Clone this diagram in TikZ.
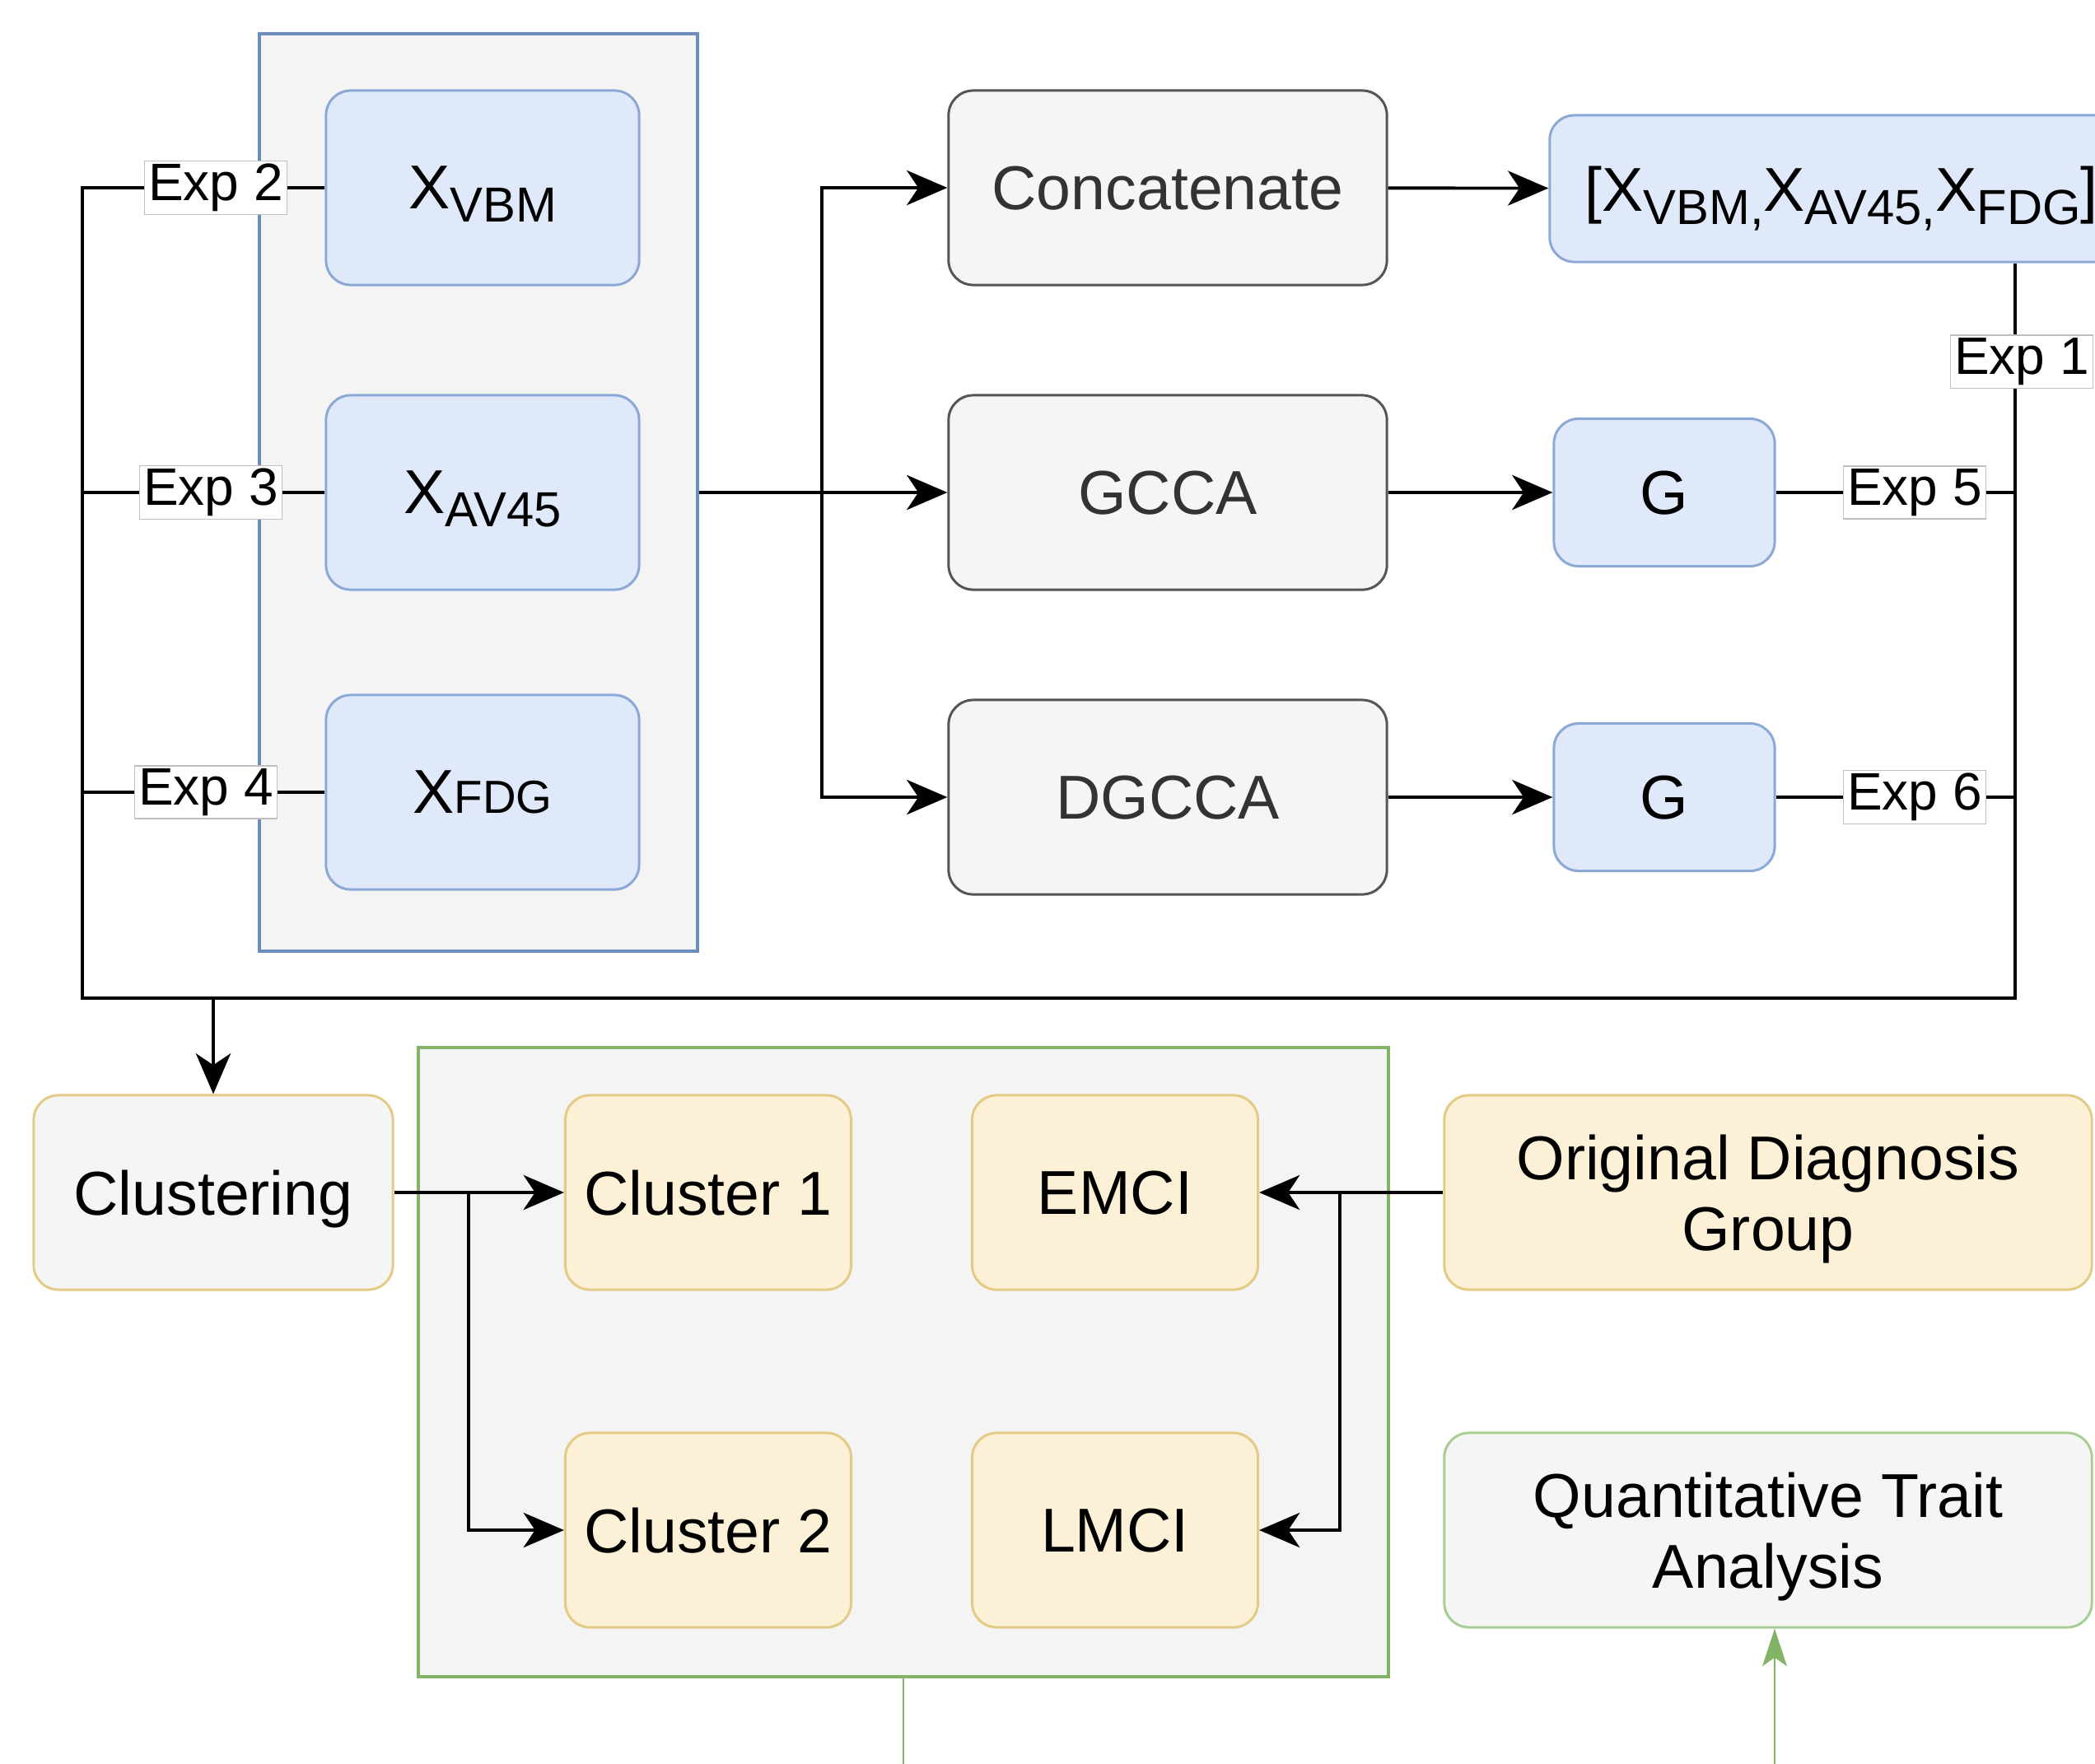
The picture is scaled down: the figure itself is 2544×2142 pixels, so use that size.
\documentclass[tikz,border=0pt]{standalone}
\usepackage{fontspec}
\setmainfont{Liberation Sans}
\usetikzlibrary{positioning,arrows.meta}

\definecolor{bluefill}{HTML}{DFE9F9}
\definecolor{bluedraw}{HTML}{6C8EBF}
\definecolor{bluelight}{HTML}{8CA9D6}
\definecolor{panelfill}{HTML}{F4F4F4}
\definecolor{grayfill}{HTML}{F5F5F5}
\definecolor{graydraw}{HTML}{555555}
\definecolor{txtgray}{HTML}{333333}
\definecolor{yellowfill}{HTML}{FCF1D7}
\definecolor{yellowdraw}{HTML}{E3CB86}
\definecolor{greendraw}{HTML}{82B366}
\definecolor{greenlight}{HTML}{A6CE94}

% lowered and flat subscripts for the modality names
\newcommand{\sublow}[1]{\raisebox{-4.5pt}{\fontsize{17}{17}\selectfont #1}}
\newcommand{\subflat}[1]{{\fontsize{16}{16}\selectfont #1}}

\begin{document}
\begin{tikzpicture}[%
  x=0.01cm, y=-0.01cm,
  font=\fontsize{21.4}{24.5}\selectfont,
  roundbox/.style={rounded corners=0.3cm, line width=0.85pt, align=center, inner sep=0pt, text depth=0pt},
  modality/.style={roundbox, fill=bluefill, draw=bluelight, minimum width=3.8cm, minimum height=2.36cm},
  method/.style={roundbox, fill=grayfill, draw=graydraw, text=txtgray, minimum width=5.32cm, minimum height=2.36cm},
  proj/.style={roundbox, fill=bluefill, draw=bluelight, minimum width=2.68cm, minimum height=1.79cm},
  group/.style={roundbox, fill=yellowfill, draw=yellowdraw, minimum width=3.47cm, minimum height=2.36cm},
  panel/.style={fill=panelfill, line width=1.1pt, inner sep=0pt},
  explabel/.style={fill=white, draw=gray!50, line width=0.4pt, inner xsep=1.3pt, inner ysep=1pt,
    font=\fontsize{18.2}{20}\selectfont},
  wire/.style={line width=1.1pt},
  link/.style={wire, -{Stealth[length=14pt, width=12pt, inset=4pt]}},
  greenlink/.style={draw=greendraw, line width=0.6pt}]

  \useasboundingbox (0,0) rectangle (2544,2142);
  \clip (0,0) rectangle (2544,2142);

  % input views
  \node[panel, draw=bluedraw, minimum width=5.31cm, minimum height=11.14cm] (mods) at (581,598) {};
  \node[modality] (vbm) at (586,228) {X\sublow{VBM}};
  \node[modality] (av45) at (586,598) {X\sublow{AV45}};
  \node[modality] (fdg) at (586,962) {X\subflat{FDG}};

  % fusion methods
  \node[method] (concat) at (1418,228) {Concatenate};
  \node[method] (gcca) at (1418,598) {GCCA};
  \node[method] (dgcca) at (1418,968) {DGCCA};

  \node[modality, minimum width=7.08cm, minimum height=1.78cm] (joint) at (2236,229)
    {[X\sublow{VBM,}X\sublow{AV45,}X\sublow{FDG}]};
  \node[proj] (g1) at (2021,598) {G};
  \node[proj] (g2) at (2021,968) {G};

  % clustering and groups
  \node[roundbox, fill=grayfill, draw=yellowdraw, minimum width=4.36cm, minimum height=2.36cm] (clust) at (259,1448) {Clustering};
  \node[panel, draw=greendraw, minimum width=11.77cm, minimum height=7.64cm] (groups) at (1097,1654) {};
  \node[group] (c1) at (860,1448) {Cluster 1};
  \node[group] (emci) at (1354,1448) {EMCI};
  \node[group] (c2) at (860,1858) {Cluster 2};
  \node[group] (lmci) at (1354,1858) {LMCI};
  \node[roundbox, fill=yellowfill, draw=yellowdraw, minimum width=7.86cm, minimum height=2.36cm] (odg) at (2147,1448) {Original Diagnosis\\Group};
  \node[roundbox, fill=grayfill, draw=greenlight, minimum width=7.86cm, minimum height=2.36cm] (qta) at (2147,1858) {Quantitative Trait\\Analysis};

  \coordinate (busL) at (100,1212);
  \coordinate (busR) at (2447,1212);
  \coordinate (mfork) at (998,598);
  \coordinate (cfork) at (569,1448);
  \coordinate (dfork) at (1627,1448);
  \coordinate (lowA) at (1097,2142);
  \coordinate (lowB) at (2155,2142);

  % experiments feeding the clustering
  \draw[wire] (vbm.west) -- node[explabel, pos=0.45] {Exp 2} (vbm.west -| busL) -- (busL) -- (busR)
    -- node[explabel, pos=0.866, xshift=0.08cm] {Exp 1} (busR |- joint.south);
  \draw[wire] (av45.west) -- node[explabel, pos=0.47] {Exp 3} (av45.west -| busL);
  \draw[wire] (fdg.west) -- node[explabel, pos=0.49] {Exp 4} (fdg.west -| busL);
  \draw[wire] (g1.east) -- node[explabel, pos=0.58] {Exp 5} (g1.east -| busR);
  \draw[wire] (g2.east) -- node[explabel, pos=0.58] {Exp 6} (g2.east -| busR);

  \draw[link] (av45.east -| mods.east) -- (gcca.west);
  \draw[link] (mfork) |- (concat.west);
  \draw[link] (mfork) |- (dgcca.west);
  \draw[link] (concat) -- (joint);
  \draw[link] (gcca) -- (g1);
  \draw[link] (dgcca) -- (g2);

  \draw[link] (clust.north |- busL) -- (clust.north);
  \draw[link] (clust.east) -- (c1.west);
  \draw[link] (cfork) |- (c2.west);
  \draw[link] (odg.west) -- (emci.east);
  \draw[link] (dfork) |- (lmci.east);

  \draw[greenlink] (groups.south) -- (lowA);
  \draw[greenlink, fill=greendraw, -{Stealth[length=13pt, width=8.5pt, inset=3pt]}] (lowB) -- (lowB |- qta.south);
\end{tikzpicture}
\end{document}
